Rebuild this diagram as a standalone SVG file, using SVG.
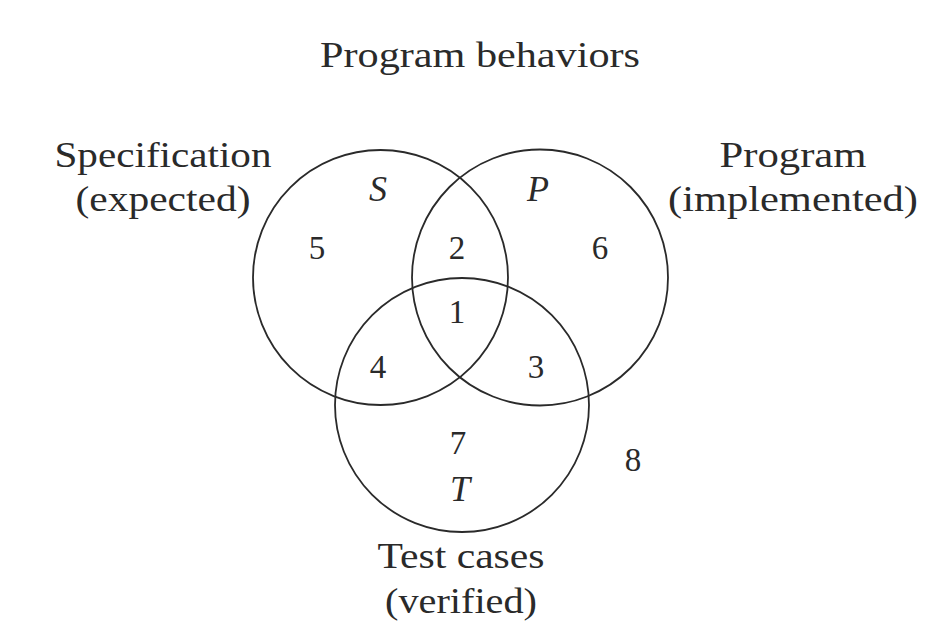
<svg xmlns="http://www.w3.org/2000/svg" width="930" height="644" viewBox="0 0 930 644">
<style>
text{font-family:"Liberation Serif","Times New Roman",serif;fill:#2a2a2a;text-anchor:middle}
.lbl{font-size:35px}
.num{font-size:33px}
.it{font-size:36px;font-style:italic}
circle{fill:none;stroke:#2a2a2a;stroke-width:1.8}
</style>
<rect width="930" height="644" fill="#fff"/>
<text class="lbl" x="480" y="67" textLength="320" lengthAdjust="spacingAndGlyphs">Program behaviors</text>
<g id="S">
<circle cx="380.5" cy="277.5" r="127.5"/>
<text class="it" x="378" y="201">S</text>
<text class="lbl" x="163" y="167" textLength="217" lengthAdjust="spacingAndGlyphs">Specification</text>
<text class="lbl" x="163" y="211" textLength="175" lengthAdjust="spacingAndGlyphs">(expected)</text>
</g>
<g id="P">
<circle cx="540" cy="277.5" r="128"/>
<text class="it" x="538" y="201">P</text>
<text class="lbl" x="793" y="167" textLength="147" lengthAdjust="spacingAndGlyphs">Program</text>
<text class="lbl" x="793" y="211" textLength="250" lengthAdjust="spacingAndGlyphs">(implemented)</text>
</g>
<g id="T">
<circle cx="462" cy="405" r="127"/>
<text class="it" x="460" y="501">T</text>
<text class="lbl" x="461" y="568" textLength="167" lengthAdjust="spacingAndGlyphs">Test cases</text>
<text class="lbl" x="461" y="613" textLength="152" lengthAdjust="spacingAndGlyphs">(verified)</text>
</g>
<g id="regions">
<text class="num" x="317" y="259">5</text>
<text class="num" x="457" y="259">2</text>
<text class="num" x="600" y="259">6</text>
<text class="num" x="457" y="323">1</text>
<text class="num" x="378" y="378">4</text>
<text class="num" x="536" y="378">3</text>
<text class="num" x="458" y="454">7</text>
<text class="num" x="633" y="471">8</text>
</g>
<g id="connectors"></g>
</svg>
